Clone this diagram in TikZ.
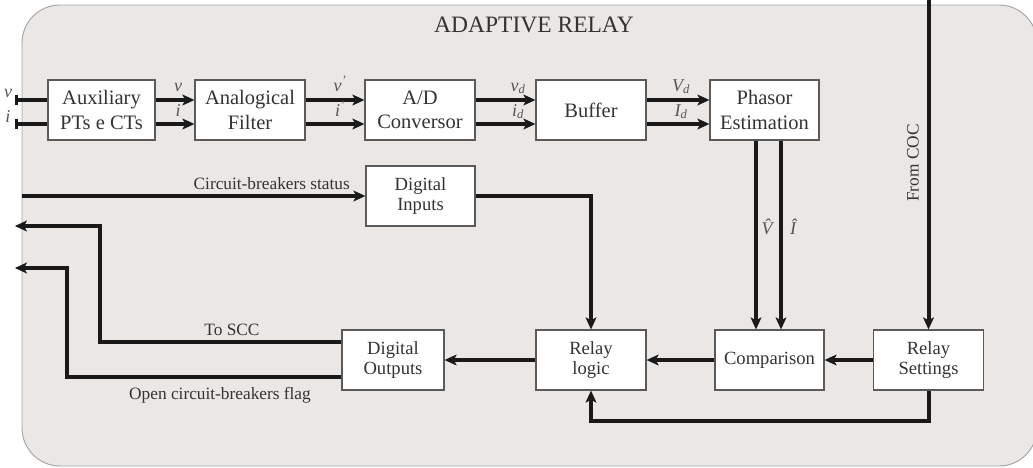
\documentclass[tikz,border=0pt]{standalone}
\usepackage{fontspec}
\setmainfont{Liberation Serif}
\usetikzlibrary{arrows.meta}
\definecolor{panelfill}{HTML}{EAE7E4}
\definecolor{panelline}{HTML}{A3A3A3}
\definecolor{boxline}{HTML}{5A5A5A}
\definecolor{txt}{HTML}{333333}
\definecolor{lbl}{HTML}{555555}
\tikzset{
  blk/.style={draw=boxline, fill=white, line width=1.4pt, align=center,
    text=txt, inner sep=0pt},
  topblk/.style={blk, minimum height=60pt, font=\fontsize{20.5}{24.5}\selectfont},
  lowblk/.style={blk, minimum height=60pt, font=\fontsize{18.6}{20.5}\selectfont},
  wire/.style={line width=4pt, draw=black!90, line join=miter},
  arr/.style={wire, -{Stealth[length=12pt,width=11pt,inset=3pt,line width=0.5pt]}},
  sig/.style={text=lbl, font=\fontsize{18}{20}\selectfont\itshape, inner sep=0pt},
  note/.style={text=txt, font=\fontsize{17.3}{19}\selectfont, inner sep=0pt}
}
\newcommand{\sub}[2]{#1\textsubscript{#2}}
\newcommand{\prm}[1]{#1\textsuperscript{'}}
\begin{document}
\begin{tikzpicture}[x=1pt,y=-1pt]
\useasboundingbox (0,0) rectangle (1033,467);
% relay enclosure
\draw[fill=panelfill, draw=panelline, line width=0.9pt, rounded corners=38pt]
  (22,5) rectangle (1037,466);
\node[text=txt, font=\fontsize{23.5}{27}\selectfont] (title) at (534,25) {ADAPTIVE RELAY};

% acquisition chain
\node[topblk, minimum width=107pt] (aux)  at (101.5,110) {Auxiliary\\PTs e CTs};
\node[topblk, minimum width=110pt] (filt) at (250,110) {Analogical\\Filter};
\node[topblk, minimum width=110pt] (adc)  at (420,110) {A/D\\Conversor};
\node[topblk, minimum width=110pt] (buf)  at (591,110) {Buffer};
\node[topblk, minimum width=109pt] (pha)  at (764.5,110) {Phasor\\Estimation};

% decision blocks
\node[lowblk, minimum width=109pt] (din)  at (420.5,196) {Digital\\Inputs};
\node[lowblk, minimum width=102pt] (dout) at (393,360) {Digital\\Outputs};
\node[lowblk, minimum width=110pt] (rlog) at (591,360) {Relay\\logic};
\node[lowblk, minimum width=109pt] (cmp)  at (769.5,360) {Comparison};
\node[lowblk, minimum width=110pt] (rset) at (928.5,360) {Relay\\Settings};

% free ends
\coordinate (vin) at (15,100);
\coordinate (iin) at (15,124);
\coordinate (cbin) at (22,196);
\coordinate (coc) at (928.5,0);
\coordinate (sccout) at (15,226);
\coordinate (sccbend) at (100,226);
\coordinate (flagout) at (15,268);
\coordinate (flagbend) at (67,268);
\coordinate (fb) at (0,421);
\coordinate (vh) at (756,0);
\coordinate (ih) at (781,0);

% inputs
\node[sig] at (8,93) {v};
\node[sig] at (8,117) {i};
\draw[wire, {Bar[width=10pt,line width=3pt]}-] (vin) -- (aux.west |- vin);
\draw[wire, {Bar[width=10pt,line width=3pt]}-] (iin) -- (aux.west |- iin);

% chain signals
\draw[arr] ([yshift=10pt]aux.east) -- ([yshift=10pt]filt.west);
\draw[arr] ([yshift=-14pt]aux.east) -- ([yshift=-14pt]filt.west);
\draw[arr] ([yshift=10pt]filt.east) -- ([yshift=10pt]adc.west);
\draw[arr] ([yshift=-14pt]filt.east) -- ([yshift=-14pt]adc.west);
\draw[arr] ([yshift=10pt]adc.east) -- ([yshift=10pt]buf.west);
\draw[arr] ([yshift=-14pt]adc.east) -- ([yshift=-14pt]buf.west);
\draw[arr] ([yshift=10pt]buf.east) -- ([yshift=10pt]pha.west);
\draw[arr] ([yshift=-14pt]buf.east) -- ([yshift=-14pt]pha.west);

\node[sig, anchor=base] at (178,91) {v};
\node[sig, anchor=base] at (178,116) {i};
\node[sig, anchor=base] at (340,91) {\prm{v}};
\node[sig, anchor=base] at (340,116) {\prm{i}};
\node[sig, anchor=base] at (518,91) {\sub{v}{d}};
\node[sig, anchor=base] at (518,116) {\sub{i}{d}};
\node[sig, anchor=base] at (681,91) {\sub{V}{d}};
\node[sig, anchor=base] at (681,116) {\sub{I}{d}};

% phasors to comparison
\draw[arr] (pha.south -| vh) -- (cmp.north -| vh);
\draw[arr] (pha.south -| ih) -- (cmp.north -| ih);
\node[sig] at (767,227) {\^{V}};
\node[sig] at (793,227) {\^{I}};

% settings from COC
\draw[arr] (coc) -- (rset.north);
\node[note, rotate=90] at (913,163) {From COC};

% circuit-breakers status
\draw[arr] (cbin) -- (din.west);
\node[note, anchor=base east] at (350,189) {Circuit-breakers status};
\draw[arr] (din.east) -| (rlog.north);

% decision path
\draw[arr] (rset.west) -- (cmp.east);
\draw[arr] (cmp.west) -- (rlog.east);
\draw[arr] (rlog.west) -- (dout.east);
\draw[arr] (rset.south) |- (rlog.south |- fb) -- (rlog.south);

% outputs
\draw[arr] ([yshift=18pt]dout.west) -| (sccbend) -- (sccout);
\draw[arr] ([yshift=-17pt]dout.west) -| (flagbend) -- (flagout);
\node[note, anchor=base] at (232,335) {To SCC};
\node[note, anchor=base] at (220,399) {Open circuit-breakers flag};
\end{tikzpicture}
\end{document}
